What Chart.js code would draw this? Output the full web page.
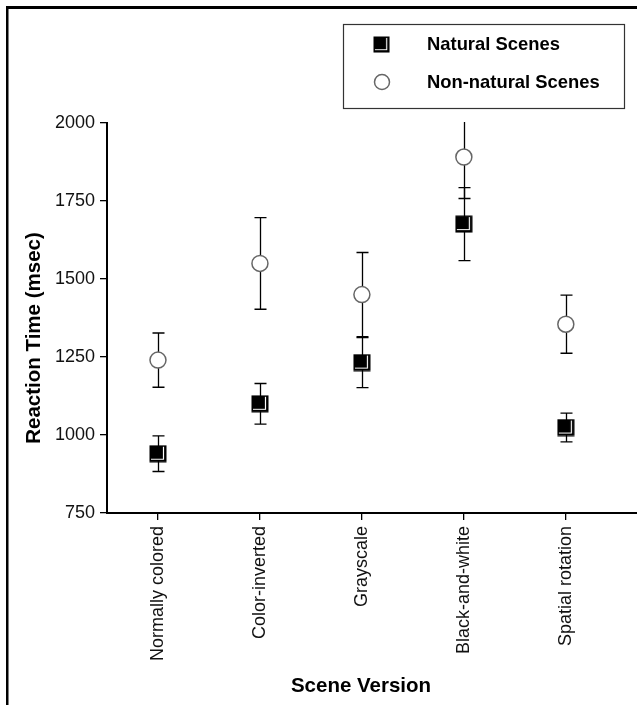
<!DOCTYPE html>
<html>
<head>
<meta charset="utf-8">
<script src="https://cdn.jsdelivr.net/npm/chart.js@4/dist/chart.umd.min.js"></script>
<style>
  html, body { margin:0; padding:0; background:#fff; }
  #wrap { width:637px; height:705px; }
</style>
</head>
<body>
<div id="wrap"><canvas id="grafico" width="637" height="705"></canvas></div>
<script>
// datos
var categorias = ["Normally colored", "Color-inverted", "Grayscale", "Black-and-white", "Spatial rotation"];
var naturales = [940, 1100, 1232, 1676, 1024];
var naturalesErr = [57, 65, 80, 117, 46];
var noNaturales = [1240, 1550, 1450, 1891, 1355];
var noNaturalesErr = [87, 147, 135, 133, 93];
var ticksY = [750, 1000, 1250, 1500, 1750, 2000];

var fuente = "'Liberation Sans', Arial, sans-serif";

// marcador cuadrado negro con el borde blanco interior
function hacerCuadrado(){
  var c = document.createElement('canvas');
  c.width = 18; c.height = 18;
  var g = c.getContext('2d');
  g.fillStyle = '#000';
  g.fillRect(0.5, 0.5, 17, 17);
  g.strokeStyle = '#fff';
  g.lineWidth = 1.2;
  g.beginPath();
  g.moveTo(14.5, 2); g.lineTo(14.5, 14.5); g.lineTo(2, 14.5);
  g.stroke();
  return c;
}
var cuadrado = hacerCuadrado();

function puntos(vals){
  return vals.map(function(v, i){ return {x: i, y: v}; });
}

// barras de error
var pluginError = {
  id: 'barrasError',
  beforeDatasetsDraw: function(chart){
    var ctx = chart.ctx, a = chart.chartArea;
    var sx = chart.scales.x, sy = chart.scales.y;
    ctx.save();
    ctx.beginPath();
    ctx.rect(a.left, a.top - 1, a.right - a.left, a.bottom - a.top + 2);
    ctx.clip();
    ctx.strokeStyle = '#000';
    ctx.lineWidth = 1.3;
    var series = [[naturales, naturalesErr], [noNaturales, noNaturalesErr]];
    series.forEach(function(s){
      for (var i = 0; i < s[0].length; i++){
        var x = Math.round(sx.getPixelForValue(i)) + 0.5;
        var yt = sy.getPixelForValue(s[0][i] + s[1][i]);
        var yb = sy.getPixelForValue(s[0][i] - s[1][i]);
        ctx.beginPath();
        ctx.moveTo(x, yt); ctx.lineTo(x, yb);
        ctx.moveTo(x - 6, yt); ctx.lineTo(x + 6, yt);
        ctx.moveTo(x - 6, yb); ctx.lineTo(x + 6, yb);
        ctx.stroke();
      }
    });
    ctx.restore();
  },
  afterDraw: function(chart){
    var ctx = chart.ctx, a = chart.chartArea;
    ctx.save();
    // el eje x llega hasta el borde
    ctx.fillStyle = '#000';
    ctx.fillRect(a.right - 1, a.bottom - 1, chart.width - a.right + 1, 2);
    // marco de la figura
    ctx.fillRect(6, 6, 631, 3);
    ctx.fillRect(6, 6, 2.5, 699);
    // caja de leyenda
    ctx.strokeStyle = '#333';
    ctx.lineWidth = 1.2;
    ctx.strokeRect(343.5, 24.5, 281, 84);
    ctx.drawImage(cuadrado, 373, 36, 17, 17);
    ctx.beginPath();
    ctx.arc(382, 82, 7.5, 0, Math.PI * 2);
    ctx.fillStyle = '#fff';
    ctx.fill();
    ctx.strokeStyle = '#666';
    ctx.lineWidth = 1.5;
    ctx.stroke();
    ctx.fillStyle = '#000';
    ctx.font = 'bold 18.4px ' + fuente;
    ctx.textBaseline = 'middle';
    ctx.textAlign = 'left';
    ctx.fillText(chart.data.datasets[0].label, 427, 45);
    ctx.fillText(chart.data.datasets[1].label, 427, 83);
    // titulos de ejes
    ctx.font = 'bold 20.5px ' + fuente;
    ctx.textAlign = 'center';
    ctx.fillText('Scene Version', 361, 686);
    ctx.translate(34, 338);
    ctx.rotate(-Math.PI / 2);
    ctx.fillText('Reaction Time (msec)', 0, 0);
    ctx.restore();
  }
};

var ctxG = document.getElementById('grafico').getContext('2d');
var grafico = new Chart(ctxG, {
  type: 'scatter',
  data: {
    datasets: [
      {
        label: 'Natural Scenes',
        data: puntos(naturales),
        pointStyle: cuadrado,
        pointRadius: 9,
        pointHoverRadius: 9
      },
      {
        label: 'Non-natural Scenes',
        data: puntos(noNaturales),
        pointStyle: 'circle',
        pointRadius: 8,
        pointHoverRadius: 8,
        backgroundColor: '#fff',
        borderColor: '#666',
        borderWidth: 1.5
      }
    ]
  },
  options: {
    responsive: false,
    animation: false,
    layout: { padding: { top: 123, left: 0, right: 0, bottom: 0 } },
    plugins: { legend: { display: false }, tooltip: { enabled: false } },
    scales: {
      x: {
        type: 'linear',
        min: -0.5,
        max: 4.6,
        afterBuildTicks: function(s){
          s.ticks = categorias.map(function(c, i){ return {value: i}; });
        },
        afterFit: function(s){ s.height = 192; },
        border: { color: '#000', width: 2 },
        grid: { drawOnChartArea: false, color: '#000', tickLength: 7, lineWidth: 1.3 },
        ticks: {
          minRotation: 90, maxRotation: 90, padding: 6,
          color: '#111',
          font: { family: fuente, size: 18 },
          callback: function(v){ return categorias[v]; }
        }
      },
      y: {
        min: ticksY[0],
        max: ticksY[ticksY.length - 1],
        afterBuildTicks: function(s){
          s.ticks = ticksY.map(function(v){ return {value: v}; });
        },
        afterFit: function(s){ s.width = 107; },
        border: { color: '#000', width: 2 },
        grid: { drawOnChartArea: false, color: '#000', tickLength: 7, lineWidth: 1.3 },
        ticks: {
          padding: 5,
          color: '#111',
          font: { family: fuente, size: 18 },
          callback: function(v){ return String(v); }
        }
      }
    }
  },
  plugins: [pluginError]
});
</script>
</body>
</html>
